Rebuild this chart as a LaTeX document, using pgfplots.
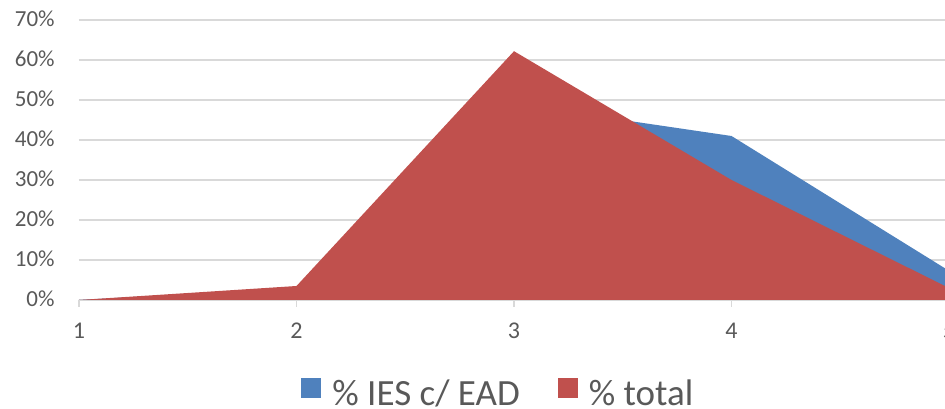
\documentclass[border=0pt]{standalone}
\usepackage{pgfplots}
\pgfplotsset{compat=1.18}
\usepackage{fontspec}
\setmainfont{Carlito}
\definecolor{iesblue}{HTML}{4F81BD}
\definecolor{totred}{HTML}{C0504D}
\definecolor{txtgray}{HTML}{595959}
\definecolor{gridgray}{HTML}{D9D9D9}
\begin{document}
\begin{tikzpicture}
\begin{axis}[
  name=ax,
  scale only axis, width=435pt, height=140pt,
  xmin=1, xmax=5, ymin=0, ymax=70,
  xtick={1,2,3,4,5}, ytick={0,10,...,70},
  yticklabel={\pgfmathprintnumber{\tick}\%},
  /pgf/number format/assume math mode=true,
  separate axis lines,
  axis x line*=bottom, axis y line*=left,
  y axis line style={draw=none},
  x axis line style={gridgray, line width=0.9pt},
  ymajorgrids, grid style={gridgray, line width=0.75pt},
  ytick style={draw=none},
  xtick style={gridgray, line width=0.75pt},
  tick align=outside, major tick length=3.5pt,
  xticklabel style={font=\fontsize{12}{14}\selectfont, text=txtgray, anchor=base, inner sep=0pt, yshift=-16pt},
  yticklabel style={font=\fontsize{11.5}{13}\selectfont, text=txtgray, anchor=base east, inner sep=0pt, xshift=-8.5pt, yshift=-3.35pt},
  legend columns=2,
  legend style={draw=none, fill=none, inner sep=0pt,
    at={(axis description cs:0.2552,-0.334)}, anchor=west,
    font=\fontsize{18.5}{20}\selectfont, text=txtgray,
    nodes={inner sep=0pt},
    /tikz/every odd column/.style={column sep=5.5pt},
    /tikz/every even column/.style={column sep=19pt}},
  legend image code/.code={\fill[#1,draw=none] (0pt,-2pt) rectangle (10pt,8pt);},
]
% % IES c/ EAD (drawn first, behind)
\addplot[fill=iesblue, draw=none] coordinates {(1,0)(2,3)(3,49)(4,41)(5,7.3)} \closedcycle;
% % total
\addplot[fill=totred, draw=none] coordinates {(1,0)(2,3.5)(3,62.2)(4,30)(5,3)} \closedcycle;
\legend{\% IES c/ EAD, \% total}
\end{axis}
\pgfresetboundingbox
\path[use as bounding box] ([xshift=-39.5pt,yshift=-54.5pt]ax.south west) rectangle ([xshift=-2pt,yshift=10pt]ax.north east);
\end{tikzpicture}
\end{document}
